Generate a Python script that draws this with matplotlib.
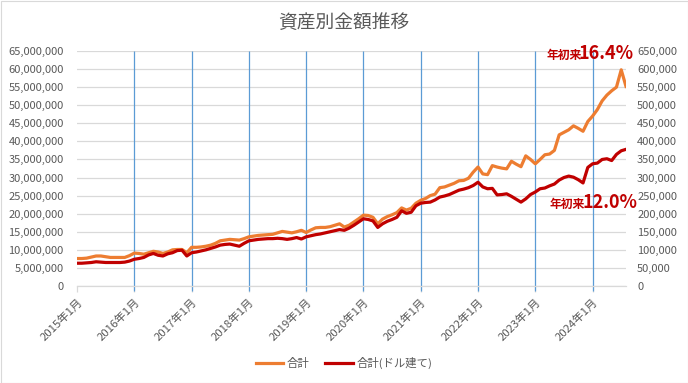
import matplotlib
matplotlib.use("Agg")
import matplotlib.pyplot as plt
from matplotlib.patches import Rectangle
from matplotlib.ticker import FuncFormatter

plt.rcParams['font.family'] = ['Noto Sans CJK JP', 'DejaVu Sans']

# monthly totals, 2015-01 .. 2024-08
jpy_total_m = [  # 百万円
    7.6, 7.6, 7.7, 8.0, 8.3, 8.3, 8.1, 7.9, 7.9, 7.9, 7.9, 8.4,
    9.1, 9.0, 8.8, 9.2, 9.6, 9.4, 9.0, 9.4, 10.0, 10.1, 10.1, 9.2,
    10.7, 10.7, 10.8, 11.0, 11.3, 11.8, 12.5, 12.7, 12.9, 12.8, 12.7, 13.1,
    13.6, 13.8, 14.0, 14.1, 14.2, 14.3, 14.7, 15.1, 14.9, 14.7, 15.0, 15.4,
    14.8, 15.5, 16.1, 16.2, 16.2, 16.4, 16.8, 17.2, 16.3, 16.8, 17.7, 18.6,
    19.6, 19.5, 19.0, 17.2, 18.5, 19.2, 19.7, 20.3, 21.6, 21.0, 21.5, 22.9,
    23.7, 24.2, 25.0, 25.4, 27.2, 27.4, 27.9, 28.4, 29.1, 29.2, 29.8, 31.5,
    32.9, 31.0, 30.8, 33.3, 32.9, 32.6, 32.4, 34.5, 33.7, 33.0, 36.0, 35.0,
    33.8, 35.0, 36.3, 36.5, 37.5, 41.8, 42.5, 43.2, 44.3, 43.6, 42.8, 45.5,
    47.0, 48.8, 51.2, 52.8, 54.0, 55.0, 59.8, 55.2,
]
usd_total_k = [  # 千ドル
    63, 63, 64, 65, 67, 66, 65, 65, 65, 65, 66, 69,
    74, 76, 79, 86, 90, 85, 83, 89, 92, 98, 99, 83,
    92, 94, 97, 100, 104, 108, 113, 115, 116, 113, 110, 118,
    125, 127, 129, 130, 131, 131, 132, 131, 129, 131, 134, 130,
    136, 139, 142, 144, 147, 150, 153, 156, 154, 160, 168, 177,
    186, 184, 180, 162, 172, 179, 184, 190, 208, 201, 204, 222,
    229, 231, 232, 238, 246, 249, 253, 259, 265, 268, 272, 278,
    287, 274, 269, 270, 252, 253, 255, 248, 240, 232, 241, 253,
    260, 269, 271, 277, 282, 293, 300, 304, 301, 294, 285, 328,
    338, 340, 350, 352, 347, 364, 374, 378,
]
years = list(range(2015, 2025))
tick_labels = [f'{y}年1月' for y in years]
series_names = ['合計', '合計(ドル建て)']
ytd_jpy = '16.4%'
ytd_usd = '12.0%'

ORANGE = '#ED7D31'
RED = '#C00000'
GRAY = '#595959'
GRID = '#D9D9D9'
BLUE = '#5B9BD5'

x = list(range(len(jpy_total_m)))
jpy = [v * 1e6 for v in jpy_total_m]
usd = [v * 1e3 for v in usd_total_k]

fig = plt.figure(figsize=(6.88, 3.83), dpi=100)
ax = fig.add_axes([77 / 688, 1 - 286 / 383, (626 - 77) / 688, (286 - 51) / 383])
ax2 = ax.twinx()

ax.set_xlim(0, len(x) - 1)
ax.set_ylim(0, 65e6)
ax2.set_ylim(0, 650e3)
ax.set_yticks([i * 5e6 for i in range(14)])
ax2.set_yticks([i * 5e4 for i in range(14)])
fmt = FuncFormatter(lambda v, p: f'{v:,.0f}')
ax.yaxis.set_major_formatter(fmt)
ax2.yaxis.set_major_formatter(fmt)

ax.grid(axis='y', color=GRID, linewidth=0.9)
ax.set_axisbelow(True)
for a in (ax, ax2):
    for s in a.spines.values():
        s.set_visible(False)
ax.spines['bottom'].set_visible(True)
ax.spines['bottom'].set_color(GRID)
ax.spines['bottom'].set_linewidth(0.9)

ticks = [i * 12 for i in range(len(years))]
ax.set_xticks(ticks)
ax.set_xticklabels(tick_labels, rotation=45, ha='right', rotation_mode='anchor')
ax.tick_params(axis='x', colors=GRID, labelcolor=GRAY, labelsize=8.2, length=4.5, width=0.9, pad=3)
ax.tick_params(axis='y', length=0, labelcolor=GRAY, labelsize=8, pad=9.5)
ax2.tick_params(axis='y', length=0, labelcolor=GRAY, labelsize=8, pad=8)

# blue year separators
ax.vlines(ticks[1:], -1.5e6, 65e6, colors=BLUE, linewidth=0.9, clip_on=False, zorder=1)

l1, = ax.plot(x, jpy, color=ORANGE, linewidth=2.3, label=series_names[0], zorder=3)
l2, = ax2.plot(x, usd, color=RED, linewidth=2.3, label=series_names[1], zorder=3)

fig.text(0.5, 1 - 22 / 383, '資産別金額推移', ha='center', va='center', fontsize=13.5, color=GRAY)

fig.legend(handles=[l1, l2], loc='center', bbox_to_anchor=(0.5, 1 - 363 / 383), ncol=2,
           frameon=False, fontsize=8.2, handlelength=2.4, handletextpad=0.3, columnspacing=1.4,
           labelcolor=GRAY)

fig.text(634 / 688, 1 - 59 / 383, ytd_jpy, ha='right', va='baseline', fontsize=13,
         fontweight='bold', color=RED)
fig.text(582 / 688, 1 - 59 / 383, '年初来', ha='right', va='baseline', fontsize=8.5,
         fontweight='bold', color=RED)
fig.text(638 / 688, 1 - 208 / 383, ytd_usd, ha='right', va='baseline', fontsize=13,
         fontweight='bold', color=RED)
fig.text(585 / 688, 1 - 208 / 383, '年初来', ha='right', va='baseline', fontsize=8.5,
         fontweight='bold', color=RED)

fig.patches.append(Rectangle((0.5 / 688, 0.5 / 383), 1 - 1 / 688, 1 - 1 / 383,
                             transform=fig.transFigure, fill=False, edgecolor=GRID, linewidth=0.8))

fig.savefig('out.png', dpi=100)
